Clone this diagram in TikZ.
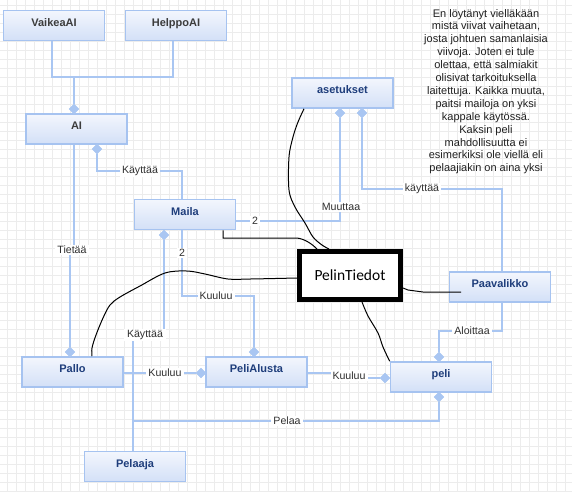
\documentclass[tikz,border=0pt]{standalone}
\usepackage{fontspec}
\setmainfont{Liberation Sans}
\newfontfamily\calibfont{Carlito}
\usetikzlibrary{shapes.geometric}

\definecolor{gridgray}{HTML}{ECECEC}
\definecolor{edgeblue}{HTML}{A9C6F2}
\definecolor{boxline}{HTML}{A6C3F0}
\definecolor{boxtop}{HTML}{F3F6FD}
\definecolor{boxbot}{HTML}{D3E0F7}
\definecolor{namenavy}{HTML}{1E3D7B}
\definecolor{namegray}{HTML}{3C3C3C}
\definecolor{labelgray}{HTML}{303030}

\tikzset{
  gridline/.style={draw=gridgray, line width=0.8},
  conn/.style={draw=edgeblue, line width=1.7},
  dia/.style={diamond, fill=edgeblue, draw=none, inner sep=0,
    minimum width=10, minimum height=10},
  entity/.style={rectangle, draw=boxline, line width=1.6,
    top color=boxtop, bottom color=boxbot,
    minimum width=101, minimum height=30, inner sep=0,
    text height=8, text depth=6.7,
    font=\bfseries\fontsize{11}{13}\selectfont, text=namenavy},
  aientity/.style={entity, text=namegray},
  lbl/.style={fill=white, inner xsep=2, inner ysep=1.5, text=labelgray,
    font=\fontsize{10.6}{12}\selectfont},
  ink/.style={draw=black, line width=1},
}

\begin{document}
\begin{tikzpicture}[x=1pt, y=-1pt]
\useasboundingbox (0,0) rectangle (572,491);

% background grid
\fill[white] (0,0) rectangle (572,491);
\foreach \i in {0,...,63} {\draw[gridline] ({7.3+9*\i},0) -- ({7.3+9*\i},491);}
\foreach \j in {0,...,54} {\draw[gridline] (0,{5+9*\j}) -- (572,{5+9*\j});}

% entities
\node[aientity] (vaikea) at (54,25.5) {VaikeaAI};
\node[aientity] (helppo) at (176,25.5) {HelppoAI};
\node[aientity] (ai) at (76.5,129) {AI};
\node[entity] (maila) at (185,214.5) {Maila};
\node[entity] (asetukset) at (342.5,93) {asetukset};
\node[entity] (paavalikko) at (500,287) {Paavalikko};
\node[entity] (peli) at (441,377) {peli};
\node[entity] (pallo) at (72.5,372) {Pallo};
\node[entity] (alusta) at (256.5,372) {PeliAlusta};
\node[entity] (pelaaja) at (135,466.5) {Pelaaja};

% diamond ends
\node[dia] (dAi) at (74,109) {};
\node[dia] (dAiMaila) at (97,149) {};
\node[dia] (dPallo) at (70,352) {};
\node[dia] (dMaila) at (164,235) {};
\node[dia] (dAset1) at (340,113) {};
\node[dia] (dAset2) at (362,113) {};
\node[dia] (dAlustaTop) at (254,352) {};
\node[dia] (dAlustaLeft) at (201,373) {};
\node[dia] (dPeliTop) at (439,357) {};
\node[dia] (dPeliLeft) at (385,378) {};
\node[dia] (dPeliBot) at (439,397) {};

% connectors
\draw[conn] (vaikea.south -| 52,0) -- (52,77) -- (173,77) -- (helppo.south -| 173,0);
\draw[conn] (74,77) -- (dAi.north);
\draw[conn] (dAiMaila.south) -- (97,171) -- (182,171) -- (maila.north -| 182,0);
\draw[conn] (ai.south -| 74,0) -- (74,250) -- (70,250) -- (dPallo.north);
\draw[conn] (maila.east |- 0,221) -- (340,221) -- (dAset1.south);
\draw[conn] (maila.south -| 182,0) -- (182,296) -- (254,296) -- (dAlustaTop.north);
\draw[conn] (dMaila.south) -- (164,334) -- (133,334) -- (pelaaja.north -| 133,0);
\draw[conn] (dAset2.south) -- (362,189) -- (502,189) -- (paavalikko.north -| 502,0);
\draw[conn] (paavalikko.south -| 502,0) -- (502,331) -- (439,331) -- (dPeliTop.north);
\draw[conn] (pallo.east |- 0,373) -- (dAlustaLeft.west);
\draw[conn] (alusta.east |- 0,373) -- (350,373) -- (350,378) -- (dPeliLeft.west);
\draw[conn] (dPeliBot.south) -- (439,421) -- (133,421);

% repaint the diamonds over the line ends
\foreach \d in {dAi,dAiMaila,dPallo,dMaila,dAset1,dAset2,dAlustaTop,dAlustaLeft,dPeliTop,dPeliLeft,dPeliBot}
  {\fill[edgeblue] (\d.north) -- (\d.east) -- (\d.south) -- (\d.west) -- cycle;}

% connector labels
\node[lbl] (tKayttaa1) at (140,171) {Käyttää};
\node[lbl] (tTietaa) at (72,250) {Tietää};
\node[lbl] (tTwoA) at (255,221) {2};
\node[lbl] (tMuuttaa) at (341,207) {Muuttaa};
\node[lbl] (tTwoB) at (182,253) {2};
\node[lbl] (tKuuluu1) at (216,296) {Kuuluu};
\node[lbl, inner xsep=3] (tKayttaa2) at (145,335) {Käyttää};
\node[lbl] (tKayttaa3) at (422,189) {käyttää};
\node[lbl] (tAloittaa) at (472,331) {Aloittaa};
\node[lbl] (tKuuluu2) at (165,373) {Kuuluu};
\node[lbl] (tKuuluu3) at (349,375.5) {Kuuluu};
\node[lbl] (tPelaa) at (287,421) {Pelaa};

% the game data box
\node[draw=black, line width=5, fill=white, minimum width=101, minimum height=48,
  inner sep=0, font=\calibfont\fontsize{15.5}{18}\selectfont] (tiedot) at (350,275.5) {PelinTiedot};

% hand-drawn links to the game data box
\draw[ink] plot[smooth, tension=0.55] coordinates {
  (pallo.north -| 92,0) (92,348) (96,335) (103,318) (110,305) (120,297)
  (140,286) (165,273) (187,271) (205,274) (228,279) (250,279) (tiedot.west |- 0,278)};
\draw[ink] (maila.south -| 223,0) -- (223,238) -- (297,238)
  .. controls (305,239) and (312,244) .. (tiedot.north -| 317,0);
\draw[ink] plot[smooth, tension=0.55] coordinates {
  (asetukset.south -| 304,0) (298,122) (293,137) (289,157) (289,190) (295,207)
  (305,223) (313,237) (322,245) (tiedot.north -| 329,0)};
\draw[ink] (tiedot.east |- 0,288) -- (408,290) -- (423,292) -- (461,292);
\draw[ink] plot[smooth, tension=0.55] coordinates {
  (tiedot.south -| 362,0) (368,316) (378,333) (383,347) (peli.north west)};

% note
\node[anchor=north, align=center, text=black!88,
  font=\fontsize{11}{12.9}\selectfont] (note) at (486,5.5) {%
  En löytänyt vielläkään\\
  mistä viivat vaihetaan,\\
  josta johtuen samanlaisia\\
  viivoja. Joten ei tule\\
  olettaa, että salmiakit\\
  olisivat tarkoituksella\\
  laitettuja. Kaikka muuta,\\
  paitsi mailoja on yksi\\
  kappale käytössä.\\
  Kaksin peli\\
  mahdollisuutta ei\\
  esimerkiksi ole viellä eli\\
  pelaajiakin on aina yksi};
\end{tikzpicture}
\end{document}
